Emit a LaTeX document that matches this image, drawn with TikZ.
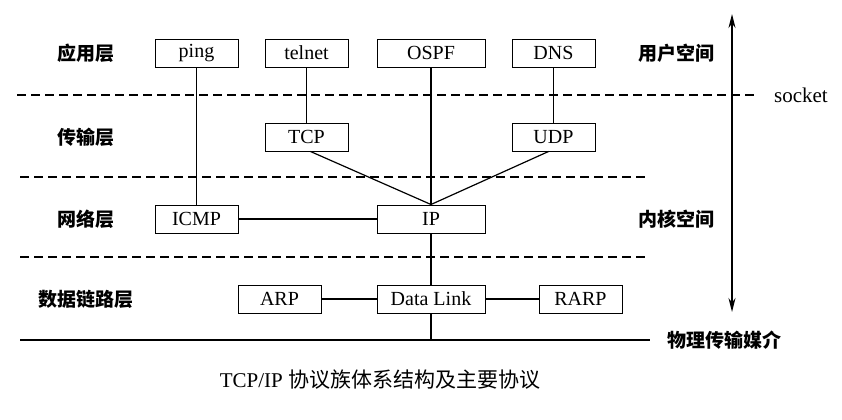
\documentclass[tikz,border=0pt]{standalone}
\usepackage{fontspec}
\setmainfont{Liberation Serif}
\newfontfamily\cjk{Noto Sans CJK SC}
\usetikzlibrary{arrows.meta}

\begin{document}
\begin{tikzpicture}[x=0.5pt,y=-0.5pt,
  proto/.style={draw,line width=0.5pt,minimum width=41.5pt,minimum height=14pt,inner sep=0pt,font=\fontsize{10}{11}\selectfont},
  wide/.style={proto,minimum width=54pt},
  layer/.style={font=\cjk\bfseries\fontsize{9.5}{10}\selectfont},
  link/.style={line width=0.6pt},
  sep/.style={line width=0.6pt,dash pattern=on 4.5pt off 2.5pt}]
\useasboundingbox (0,0) rectangle (842,419);
% protocol boxes
\node[proto] (ping) at (196.5,53) {ping};
\node[proto] (telnet) at (306.5,53) {telnet};
\node[wide] (ospf) at (431,53) {OSPF};
\node[proto] (dns) at (553.5,53) {DNS};
\node[proto] (tcp) at (306.5,137) {TCP};
\node[proto] (udp) at (553.5,137) {UDP};
\node[proto] (icmp) at (196.5,219) {ICMP};
\node[wide] (ip) at (431,219) {IP};
\node[proto] (arp) at (279.5,299) {ARP};
\node[wide] (dl) at (431,299) {Data Link};
\node[proto] (rarp) at (580.5,299) {RARP};
% layer names
\node[layer] (app) at (86,53) {应用层};
\node[layer] (trans) at (86,137) {传输层};
\node[layer] (net) at (86,219) {网络层};
\node[layer] (link) at (86,299) {数据链路层};
\node[layer] (user) at (676,53) {用户空间};
\node[layer] (kern) at (676,219) {内核空间};
\node[font=\fontsize{10.5}{11}\selectfont] (sock) at (801,95) {socket};
\node[layer,anchor=west] (phys) at (660,340) {物理传输媒介};
\node[font=\fontsize{10.5}{12}\selectfont] (title) at (380,380) {TCP/IP {\cjk 协议族体系结构及主要协议}};
% separators and medium
\coordinate (s1l) at (17,95); \coordinate (s1r) at (755,95);
\coordinate (s2l) at (20,177); \coordinate (s2r) at (650,177);
\coordinate (s3l) at (20,257); \coordinate (s3r) at (650,257);
\coordinate (medl) at (20,340); \coordinate (medr) at (650,340);
\draw[sep] (s1l) -- (s1r);
\draw[sep] (s2l) -- (s2r);
\draw[sep] (s3l) -- (s3r);
\draw[link] (medl) -- (medr);
% connections
\draw[link] (ping) -- (icmp);
\draw[link] (telnet) -- (tcp);
\draw[link] (ospf) -- (ip);
\draw[link] (dns) -- (udp);
\draw[link] ([xshift=2pt]tcp.south) -- (ip.north);
\draw[link] ([xshift=-2.5pt]udp.south) -- (ip.north);
\draw[link] (icmp) -- (ip);
\draw[link] (ip) -- (dl);
\draw[link] (arp) -- (dl);
\draw[link] (dl) -- (rarp);
\draw[link] (dl) -- (dl |- medl);
% user/kernel arrow
\coordinate (up) at (732,14); \coordinate (down) at (732,312);
\draw[line width=0.8pt,{Stealth[length=7pt,width=3.5pt]}-{Stealth[length=7pt,width=3.5pt]}] (up) -- (down);
\end{tikzpicture}
\end{document}
